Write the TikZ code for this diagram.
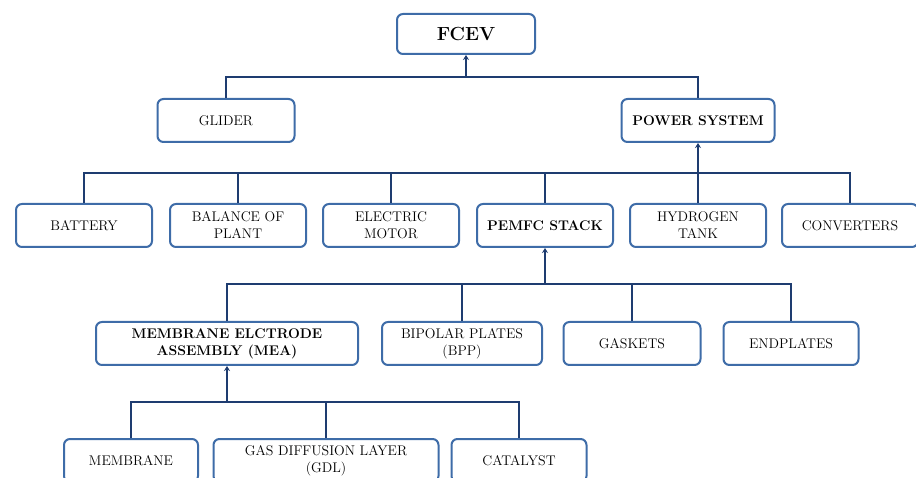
\documentclass[tikz,border=0pt]{standalone}
\usetikzlibrary{arrows.meta,positioning}
\definecolor{boxblue}{RGB}{62,108,168}
\definecolor{lineblue}{RGB}{30,60,112}
\tikzset{
	blk/.style={draw=boxblue,line width=2pt,rounded corners=6pt,fill=white,align=center,
		minimum height=43pt,inner sep=1pt,font=\fontsize{14}{17}\selectfont},
	bblk/.style={blk,font=\fontsize{14}{17}\selectfont\bfseries},
	conn/.style={color=lineblue,line width=1.8pt},
	dirconn/.style={conn,-{Stealth[width=6pt,length=5pt]}}
}

\begin{document}
\begin{tikzpicture}[x=1pt,y=-1pt]
	\useasboundingbox (0,0) rectangle (916,478);
	%%%top
	\node[bblk,minimum width=138pt,minimum height=40pt,font=\fontsize{19}{19}\selectfont\bfseries] (fcev) at (466,34) {FCEV};
	\node[blk,minimum width=137pt] (glider) at (226,120.5) {GLIDER};
	\node[bblk,minimum width=153pt] (power) at (698,120.5) {POWER SYSTEM};
	\coordinate (b1) at (466,77);
	\draw[conn] (glider.north) |- (b1) -| (power.north);
	\draw[dirconn] (b1) -- (fcev.south);
	
	%%%power system
	\node[blk,minimum width=136pt] (battery) at (84,225.5) {BATTERY};
	\node[blk,minimum width=136pt] (bop) at (238,225.5) {BALANCE OF\\PLANT};
	\node[blk,minimum width=136pt] (motor) at (391,225.5) {ELECTRIC\\MOTOR};
	\node[bblk,minimum width=136pt] (stack) at (545,225.5) {PEMFC STACK};
	\node[blk,minimum width=136pt] (tank) at (698,225.5) {HYDROGEN\\TANK};
	\node[blk,minimum width=136pt] (conv) at (850,225.5) {CONVERTERS};
	\coordinate (b2) at (698,173);
	\draw[conn] (battery.north) |- (b2) -| (conv.north);
	\foreach \n in {bop,motor,stack,tank}
		\draw[conn] (\n.north) -- (\n.north |- b2);
	\draw[dirconn] (b2) -- (power.south);
	
	%%%stack
	\node[bblk,minimum width=262pt] (mea) at (227,343.5) {MEMBRANE ELCTRODE\\ASSEMBLY (MEA)};
	\node[blk,minimum width=160pt] (bpp) at (462,343.5) {BIPOLAR PLATES\\(BPP)};
	\node[blk,minimum width=137pt] (gaskets) at (632,343.5) {GASKETS};
	\node[blk,minimum width=135pt] (endplates) at (791,343.5) {ENDPLATES};
	\coordinate (b3) at (545,284);
	\draw[conn] (mea.north) |- (b3) -| (endplates.north);
	\foreach \n in {bpp,gaskets}
		\draw[conn] (\n.north) -- (\n.north |- b3);
	\draw[dirconn] (b3) -- (stack.south);
	
	%%%mea
	\node[blk,minimum width=134pt] (membrane) at (131,460.5) {MEMBRANE};
	\node[blk,minimum width=225pt] (gdl) at (326,460.5) {GAS DIFFUSION LAYER\\(GDL)};
	\node[blk,minimum width=135pt] (catalyst) at (519,460.5) {CATALYST};
	\coordinate (b4) at (227,402);
	\draw[conn] (membrane.north) |- (b4) -| (catalyst.north);
	\draw[conn] (gdl.north) -- (gdl.north |- b4);
	\draw[dirconn] (b4) -- (mea.south);
\end{tikzpicture}
\end{document}
